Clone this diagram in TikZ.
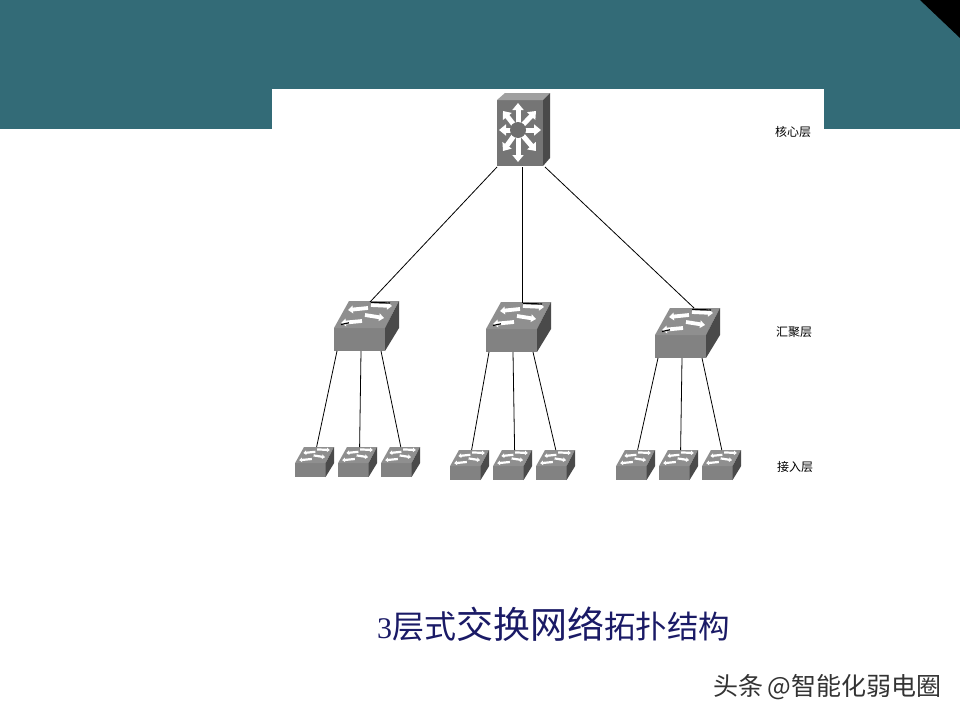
\documentclass[tikz,border=0pt]{standalone}
\usepackage{fontspec}
\setmainfont{Liberation Serif}
\newfontfamily\cjk{Noto Sans CJK SC}
\usetikzlibrary{arrows.meta}
\definecolor{banner}{HTML}{336B77}
\definecolor{navy}{HTML}{1A1A66}
\definecolor{swfront}{HTML}{828282}
\definecolor{swtop}{HTML}{8F8F8F}
\definecolor{swside}{HTML}{4A4A4A}
\tikzset{
  x=1pt,y=-1pt,
  link/.style={draw=black,line width=0.8pt},
  layerlabel/.style={font=\cjk\fontsize{12}{14}\selectfont,text=black,inner sep=0pt},
  swarrow/.style={draw=white,line width=#1,-{Triangle[length=0pt 1.3,width=0pt 2.0]}},
  corearrow/.style={draw=white,line width=5pt,line cap=butt,-{Triangle[length=7pt,width=11pt]}},
  distsw/.pic={
    \fill[swfront] (0,27) rectangle (51,50);
    \fill[swtop] (0,27) -- (51,27) -- (65,0) -- (15,0) -- cycle;
    \fill[swside] (51,27) -- (65,0) -- (65,27) -- (51,50) -- cycle;
    \draw[swarrow=3.8pt] (37,4) -- (58,5);
    \draw[swarrow=3.8pt] (34,7) -- (14,9);
    \draw[swarrow=3.8pt] (31,14) -- (50,17);
    \draw[swarrow=3.8pt] (28,20) -- (7,22);
    \draw[black,line width=1.2pt] (37,1.4) -- (56,2);
    \draw[black,line width=1.2pt] (7,23.5) -- (15,21.8);
    \coordinate (-ta) at (36,1);
    \coordinate (-tb) at (39,0);
    \coordinate (-b1) at (3,50);
    \coordinate (-b2) at (27,50);
    \coordinate (-b3) at (47,50);
  },
  accsw/.pic={
    \fill[swfront] (0,27) rectangle (51,50);
    \fill[swtop] (0,27) -- (51,27) -- (65,0) -- (15,0) -- cycle;
    \fill[swside] (51,27) -- (65,0) -- (65,27) -- (51,50) -- cycle;
    \draw[swarrow=2.2pt] (37,4) -- (58,5);
    \draw[swarrow=2.2pt] (34,8) -- (14,10);
    \draw[swarrow=2.2pt] (31,14) -- (50,17);
    \draw[swarrow=2.2pt] (28,20) -- (7,22);
    \coordinate (-ta) at (36,0);
    \coordinate (-tc) at (33,0);
  },
  coresw/.pic={
    \fill[swfront!90!black] (0,7) rectangle (46,73);
    \fill[swtop!85!white] (0,7) -- (46,7) -- (53,0) -- (8,0) -- cycle;
    \fill[swside] (46,7) -- (53,0) -- (53,65) -- (46,73) -- cycle;
    \draw[corearrow] (21,37) -- (21,10);
    \draw[corearrow] (21,37) -- (21,69);
    \draw[corearrow] (21,37) -- (2,37);
    \draw[corearrow] (21,37) -- (44,37);
    \draw[corearrow] (21,37) -- (6,18);
    \draw[corearrow] (21,37) -- (39,18);
    \draw[corearrow] (21,37) -- (6,58);
    \draw[corearrow] (21,37) -- (39,58);
    \fill[swfront!85!black] (21,37) circle[radius=8];
    \coordinate (-b1) at (0,74);
    \coordinate (-b2) at (25,74);
    \coordinate (-b3) at (48,74);
  },
}
\begin{document}
\begin{tikzpicture}
\useasboundingbox (0,0) rectangle (960,720);
\fill[white] (0,0) rectangle (960,720);
\fill[banner] (0,0) rectangle (960,129);
\fill[black] (920,0) -- (960,0) -- (960,38) -- cycle;
\fill[white] (272,89) rectangle (824,129);

\pic (core) at (497,93) {coresw};
\pic (d1) at (334,301) {distsw};
\pic (d2) at (486,302) {distsw};
\pic (d3) at (655,308) {distsw};

\pic[scale=0.6] (a1) at (295,447) {accsw};
\pic[scale=0.6] (a2) at (338,447) {accsw};
\pic[scale=0.6] (a3) at (381,447) {accsw};
\pic[scale=0.6] (a4) at (450,450) {accsw};
\pic[scale=0.6] (a5) at (493,450) {accsw};
\pic[scale=0.6] (a6) at (536,450) {accsw};
\pic[scale=0.6] (a7) at (616,450) {accsw};
\pic[scale=0.6] (a8) at (659,450) {accsw};
\pic[scale=0.6] (a9) at (702,450) {accsw};

\draw[link] (core-b1) -- (d1-ta);
\draw[link] (core-b2) -- (d2-ta);
\draw[link] (core-b3) -- (d3-tb);
\draw[link] (d1-b1) -- (a1-ta);
\draw[link] (d1-b2) -- (a2-ta);
\draw[link] (d1-b3) -- (a3-tc);
\draw[link] (d2-b1) -- (a4-ta);
\draw[link] (d2-b2) -- (a5-ta);
\draw[link] (d2-b3) -- (a6-tc);
\draw[link] (d3-b1) -- (a7-ta);
\draw[link] (d3-b2) -- (a8-ta);
\draw[link] (d3-b3) -- (a9-tc);

\node[layerlabel] (lcore) at (793,132) {核心层};
\node[layerlabel] (ldist) at (794,332) {汇聚层};
\node[layerlabel] (lacc) at (795,467) {接入层};

\node[anchor=west,inner sep=0pt,text=navy] (caption) at (377,624)
  {\fontsize{30}{34}\selectfont 3\cjk\fontsize{32}{34}\selectfont 层式\fontsize{37}{40}\selectfont 交换网络\fontsize{31.5}{34}\selectfont 拓扑结构};
\node[anchor=west,inner sep=0pt,text=black!80,font=\cjk\fontsize{25}{28}\selectfont] (mark) at (713,687) {头条\,@智能化弱电圈};
\end{tikzpicture}
\end{document}
